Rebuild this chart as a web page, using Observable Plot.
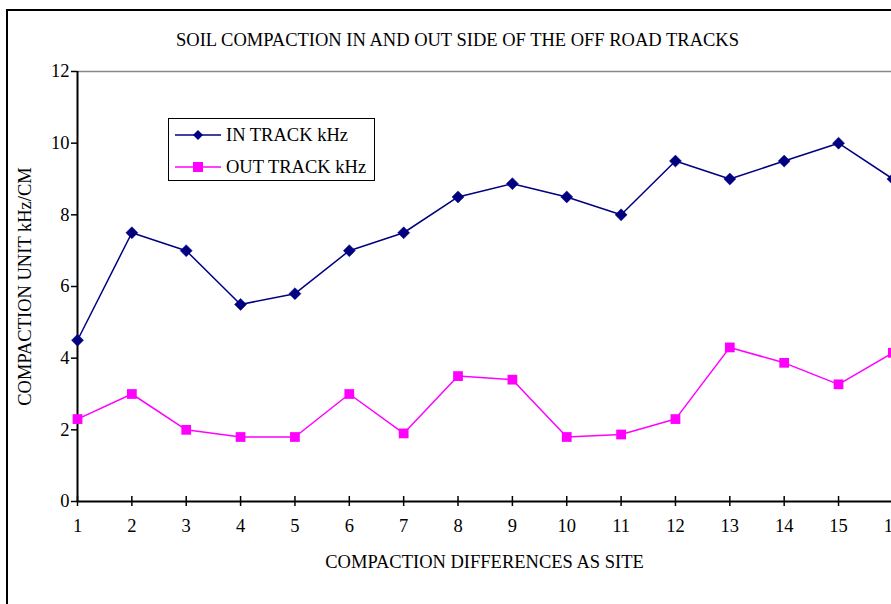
<!DOCTYPE html>
<html>
<head>
<meta charset="utf-8">
<script src="https://cdn.jsdelivr.net/npm/d3@7"></script>
<script src="https://cdn.jsdelivr.net/npm/@observablehq/plot@0.6"></script>
<style>
  html, body { margin: 0; padding: 0; background: #fff; }
  #wrap { position: relative; width: 891px; height: 604px; overflow: hidden; background: #fff; }
  #frame { position: absolute; left: 6px; top: 9px; width: 1000px; height: 1000px; border: 2px solid #000; box-sizing: border-box; pointer-events: none; }
  #legend { position: absolute; left: 168px; top: 118px; width: 207px; height: 63px; border: 1.5px solid #000; box-sizing: border-box; background: #fff;
            font-family: "Liberation Serif", "Times New Roman", serif; color: #000; }
  #legend svg { position: absolute; left: 0; top: 0; }
  svg text { font-family: "Liberation Serif", "Times New Roman", serif; }
</style>
</head>
<body>
<div id="wrap"><div id="frame"></div></div>
<script>
const title = "SOIL COMPACTION IN AND OUT SIDE OF THE OFF ROAD TRACKS";
const xLabel = "COMPACTION DIFFERENCES AS SITE";
const yLabel = "COMPACTION UNIT kHz/CM";
const seriesNames = ["IN TRACK kHz", "OUT TRACK kHz"];
const sites = [1, 2, 3, 4, 5, 6, 7, 8, 9, 10, 11, 12, 13, 14, 15, 16];
const inTrack = [4.5, 7.5, 7.0, 5.5, 5.8, 7.0, 7.5, 8.5, 8.87, 8.5, 8.0, 9.5, 9.0, 9.5, 10.0, 9.0];
const outTrack = [2.3, 3.0, 2.0, 1.8, 1.8, 3.0, 1.9, 3.5, 3.4, 1.8, 1.87, 2.3, 4.3, 3.87, 3.27, 4.15];
const yTicks = [0, 2, 4, 6, 8, 10, 12];
const colors = ["#000080", "#FF00FF"];

const inData = sites.map((s, i) => ({site: s, v: inTrack[i]}));
const outData = sites.map((s, i) => ({site: s, v: outTrack[i]}));

const FS = 18.5;
const chart = Plot.plot({
  width: 891,
  height: 604,
  marginLeft: 77,
  marginTop: 71,
  marginBottom: 103,
  marginRight: 0,
  style: {fontFamily: "'Liberation Serif', 'Times New Roman', serif", fontSize: FS + "px", background: "transparent", overflow: "hidden"},
  x: {domain: [1, 16], range: [77, 892.4]},
  y: {domain: [0, 12], range: [501, 71]},
  marks: [
    Plot.ruleY([12], {stroke: "#888", strokeWidth: 1.5}),
    Plot.axisY(yTicks, {tickSize: 6, tickPadding: 2, fontSize: FS, stroke: "#000", strokeWidth: 1.5, label: null, color: "#000"}),
    Plot.axisX(sites, {tickSize: 0, tickPadding: 17, fontSize: FS, label: null, color: "#000"}),
    Plot.ruleX(sites, {x: d => d, y1: 0, y2: 0, insetTop: -5, insetBottom: -5, stroke: "#000", strokeWidth: 1.5}),
    Plot.ruleX([1], {stroke: "#000", strokeWidth: 2}),
    Plot.ruleY([0], {stroke: "#000", strokeWidth: 2}),
    Plot.line(inData, {x: "site", y: "v", stroke: colors[0], strokeWidth: 1.5}),
    Plot.dot(inData, {x: "site", y: "v", symbol: "diamond2", r: 5.4, fill: colors[0], stroke: colors[0], strokeWidth: 0.5}),
    Plot.line(outData, {x: "site", y: "v", stroke: colors[1], strokeWidth: 1.5}),
    Plot.dot(outData, {x: "site", y: "v", symbol: "square", r: 5.5, fill: colors[1], stroke: "none"}),
    Plot.text([title], {frameAnchor: "top", lineAnchor: "middle", textAnchor: "middle", dx: -27, dy: -31, fontSize: FS, fill: "#000", text: d => d}),
    Plot.text([xLabel], {frameAnchor: "bottom", lineAnchor: "middle", textAnchor: "middle", dy: 61, fontSize: FS, fill: "#000", text: d => d}),
    Plot.text([yLabel], {frameAnchor: "left", lineAnchor: "middle", textAnchor: "middle", dx: -52, rotate: -90, fontSize: FS, fill: "#000", text: d => d})
  ]
});
const wrap = document.getElementById("wrap");
chart.style.position = "absolute";
chart.style.left = "0";
chart.style.top = "0";
wrap.insertBefore(chart, wrap.firstChild);

// legend
const leg = document.createElement("div");
leg.id = "legend";
const lsvg = d3.create("svg").attr("width", 207).attr("height", 63);
seriesNames.forEach((name, i) => {
  const cy = 16 + i * 32;
  lsvg.append("line").attr("x1", 6).attr("x2", 52).attr("y1", cy).attr("y2", cy).attr("stroke", colors[i]).attr("stroke-width", 1.5);
  if (i === 0) {
    lsvg.append("path").attr("d", d3.symbol(d3.symbolDiamond2, 64)()).attr("transform", `translate(29,${cy})`).attr("fill", colors[i]);
  } else {
    lsvg.append("rect").attr("x", 29 - 5).attr("y", cy - 5).attr("width", 10).attr("height", 10).attr("fill", colors[i]);
  }
  lsvg.append("text").attr("x", 57).attr("y", cy + 6).attr("font-size", FS).attr("fill", "#000").text(name);
});
leg.appendChild(lsvg.node());
wrap.appendChild(leg);
</script>
</body>
</html>
